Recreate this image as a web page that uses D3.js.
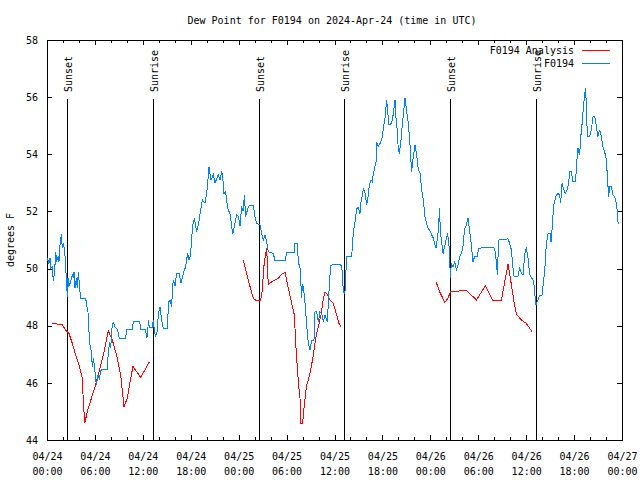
<!DOCTYPE html>
<html><head><meta charset="utf-8">
<script src="https://cdn.jsdelivr.net/npm/d3@7"></script>
<style>
body{margin:0;background:#fff;}
svg text{font-family:"DejaVu Sans Mono",monospace;font-size:10px;fill:#000;}
</style></head><body>
<svg id="c" width="640" height="480"></svg>
<script>
const titleText = "Dew Point for F0194 on 2024-Apr-24 (time in UTC)";
const yLabelText = "degrees F";
const startUTC = Date.UTC(2024, 3, 24, 0, 0);
const spanHours = 72;
const yTicks = [44, 46, 48, 50, 52, 54, 56, 58];
const xMajorHours = [0, 6, 12, 18, 24, 30, 36, 42, 48, 54, 60, 66, 72];
const xMinorHours = [2, 4, 8, 10, 14, 16, 20, 22, 26, 28, 32, 34, 38, 40, 44, 46, 50, 52, 56, 58, 62, 64, 68, 70];
const sunHours = [2.54, 13.3, 26.58, 37.23, 50.5, 61.27];
const sunLabels = ["Sunset", "Sunrise", "Sunset", "Sunrise", "Sunset", "Sunrise"];
const seriesNames = ["F0194 Analysis", "F0194"];
const seriesColors = ["#ff0000", "#0080ff"];

// Observed dew point (hours since 04/24 00:00 UTC)
const obsHours = [0.04,0.25,0.38,0.46,0.67,0.79,0.96,1.08,1.21,1.38,1.5,1.63,1.79,1.92,2.04,2.21,2.34,2.42,2.55,2.63,2.75,2.96,3.17,3.3,3.38,3.51,3.67,3.8,3.92,4.09,4.22,4.84,4.97,5.13,5.26,5.38,5.55,5.68,5.8,5.97,6.09,6.18,6.39,6.55,6.8,7.55,7.68,7.85,7.97,8.14,8.31,8.47,8.72,8.89,9.06,9.85,9.98,10.68,10.81,11.6,11.73,12.35,12.48,12.6,12.69,12.8,13.2,13.31,13.45,13.6,13.82,13.94,14.15,14.36,14.57,15.11,15.19,15.4,15.61,15.73,15.82,16.03,16.24,16.53,16.78,17.07,17.36,17.61,17.78,17.9,18.11,18.2,18.45,18.74,19.03,19.24,19.45,19.78,19.99,20.12,20.28,20.53,20.83,21.04,21.45,21.66,21.87,22.0,22.16,22.37,22.62,22.91,23.12,23.25,23.46,23.75,23.96,24.17,24.37,24.58,24.71,24.88,25.21,25.42,25.84,26.05,26.25,26.67,26.88,27.09,27.3,27.5,27.71,28.34,28.55,29.8,30.01,30.97,31.05,31.35,31.47,31.68,31.89,31.97,32.1,32.3,32.51,32.72,32.93,33.14,33.43,33.56,33.77,33.98,34.18,34.39,34.6,34.81,35.1,35.31,35.52,36.48,36.81,36.98,37.1,37.3,37.52,38.15,38.36,38.57,38.78,38.99,39.19,39.32,39.49,39.61,39.82,40.03,40.24,40.36,40.57,40.74,40.86,41.07,41.2,41.28,41.49,41.7,41.91,42.12,42.32,42.53,42.66,42.83,43.16,43.37,43.58,43.7,43.87,43.99,44.12,44.29,44.41,44.62,44.83,45.04,45.25,45.46,45.58,45.66,45.79,45.96,46.08,46.29,46.5,46.71,46.92,47.13,47.33,47.63,47.88,48.09,48.38,48.59,48.71,48.88,49.0,49.15,49.25,49.38,49.59,49.8,50.0,50.13,50.3,50.42,50.51,50.63,50.84,51.05,51.26,51.47,51.68,51.88,52.09,52.3,52.51,52.72,52.93,53.14,53.34,53.55,53.89,54.05,55.01,55.85,56.06,56.27,56.39,56.56,57.73,57.94,58.15,58.35,58.48,58.98,59.19,59.4,59.61,59.81,60.02,60.23,60.44,60.86,60.98,61.15,61.2,61.48,61.69,61.98,62.19,62.32,62.53,62.73,63.03,63.11,63.24,63.36,63.49,63.78,63.99,64.2,64.32,64.49,64.74,64.9,65.11,65.32,65.45,65.66,65.86,66.16,66.28,66.41,66.49,66.7,66.82,66.99,67.12,67.24,67.41,67.53,67.66,67.95,68.16,68.37,68.58,68.79,68.99,69.2,69.41,69.62,69.83,70.04,70.25,70.33,70.46,70.67,70.87,71.08,71.29,71.42,71.5,71.6];
const obsDewF = [50.36,50.18,50.36,50.01,50.07,49.57,49.89,50.59,50.24,50.42,50.24,50.83,51.2,50.71,50.88,50.65,50.01,49.66,49.02,49.66,49.37,49.54,49.77,49.66,49.89,49.31,49.66,49.31,49.89,49.31,48.96,48.96,48.73,48.49,47.79,47.33,47.09,46.57,46.86,46.51,46.16,45.92,46.28,46.16,46.48,46.48,47.09,47.44,47.21,47.91,48.14,47.97,47.91,47.79,47.56,47.56,47.87,47.87,48.14,48.14,47.87,47.87,47.56,47.7,48.2,47.95,47.95,48.2,47.8,47.65,47.8,48.43,48.65,48.2,47.9,47.9,48.8,48.9,48.65,49.4,49.6,49.4,49.83,49.83,49.5,49.83,50.07,50.53,50.3,50.4,50.88,51.47,51.76,51.3,51.65,52.05,52.4,52.3,52.63,52.98,53.57,53.1,53.28,53.0,53.28,53.1,53.4,53.2,52.63,52.7,52.1,51.93,51.5,51.2,51.47,51.88,51.82,51.5,52.17,52.0,52.58,51.82,52.17,52.22,52.2,51.8,51.58,51.53,51.23,51.0,51.18,50.94,50.59,50.53,50.27,50.27,50.57,50.57,50.88,50.88,50.24,50.01,48.96,49.43,49.37,48.84,48.03,47.38,47.15,47.5,47.5,48.49,48.49,48.14,48.49,48.43,48.14,48.37,48.14,49.19,50.12,50.15,50.12,49.9,49.19,49.13,50.42,50.42,51.29,51.64,52.11,52.13,51.93,52.34,52.57,52.81,52.63,52.22,52.57,52.93,53.1,53.04,53.33,53.57,53.74,54.44,54.27,54.38,54.5,54.91,55.26,55.9,55.49,55.03,55.08,55.43,55.9,55.26,54.79,54.15,54.03,54.38,54.79,55.38,55.96,55.49,55.08,54.32,53.74,53.39,53.74,54.09,54.32,53.97,53.45,53.33,52.75,52.4,51.82,51.47,51.35,51.23,51.06,50.82,50.71,51.06,51.35,52.11,51.35,51.0,50.53,50.77,51.06,51.18,51.0,50.36,49.66,50.18,50.07,50.24,49.95,50.12,50.42,50.53,50.77,51.41,51.52,51.78,51.29,50.82,50.24,50.42,50.42,50.71,50.74,50.74,50.71,50.24,49.78,51.0,51.04,50.88,50.65,50.01,49.74,49.74,50.01,49.83,49.78,50.48,50.74,50.36,49.78,49.6,49.43,48.9,48.72,48.9,49.07,49.07,49.6,49.89,50.88,51.21,51.23,50.94,51.35,51.87,52.28,52.57,52.63,52.57,52.28,52.98,52.75,52.63,52.75,52.98,53.39,53.39,53.04,53.04,53.45,54.03,54.21,53.97,54.56,55.03,55.49,55.84,56.31,55.84,54.62,54.62,54.85,55.32,55.34,54.97,54.62,54.85,54.62,54.27,54.09,53.8,52.87,52.52,52.87,52.87,52.57,52.52,52.28,51.99,51.64,51.58];

// Analysis dew point (null = gap)
const anaHours = [0.67,1.29,1.92,2.34,2.75,3.17,3.59,4.01,4.42,4.55,4.72,5.05,5.68,6.09,6.51,7.14,7.68,8.18,8.81,9.22,9.64,10.06,10.48,10.77,11.73,12.81,
  18.0,
  24.58,25.0,25.42,25.84,26.25,26.67,26.88,27.21,27.51,27.71,28.13,28.55,28.97,29.38,29.8,30.22,30.64,30.97,31.18,31.47,31.68,31.8,32.01,32.22,32.51,32.72,33.06,33.35,33.64,33.98,34.31,34.6,34.81,35.14,35.44,35.85,36.27,36.56,36.81,
  42.0,
  48.75,49.17,49.8,50.21,50.51,51.47,52.51,52.93,53.76,54.89,55.85,56.89,57.31,57.73,58.15,58.48,58.77,59.4,60.02,60.44,60.78];
const anaDewF = [48.08,48.06,48.03,47.85,47.73,47.38,46.97,46.63,46.16,45.34,44.58,44.99,45.57,45.93,46.39,47.09,47.82,47.5,46.86,46.28,45.17,45.46,46.16,46.57,46.19,46.73,
  null,
  50.3,49.83,49.37,48.96,48.87,48.87,49.02,50.24,50.71,49.43,49.54,49.6,49.66,49.8,49.87,49.31,48.78,48.38,47.21,46.04,45.46,44.58,44.58,45.23,45.93,46.1,46.51,46.98,47.56,47.97,48.38,48.96,49.17,49.08,48.9,48.78,48.38,48.08,47.97,
  null,
  49.51,49.19,48.82,48.96,49.19,49.21,49.24,49.13,48.9,49.39,48.87,48.87,49.54,50.15,49.43,48.84,48.4,48.2,48.08,47.91,47.77];

const L = 47, R = 622, T = 40, B = 440;
const hourDate = h => new Date(startUTC + h * 3600e3);
const svg = d3.select("#c");
svg.append("rect").attr("width", 640).attr("height", 480).attr("fill", "#fff");

const x = d3.scaleUtc().domain([hourDate(0), hourDate(spanHours)]).range([L, R]);
const y = d3.scaleLinear().domain([44, 58]).range([B, T]);

function styleAxis(g) {
  g.select(".domain").remove();
  g.selectAll("line").attr("stroke", "#000").attr("shape-rendering", "crispEdges");
  g.attr("font-family", null).attr("font-size", null);
}

// Y axes
svg.append("g").attr("transform", `translate(${L},0)`)
  .call(d3.axisLeft(y).tickValues(yTicks).tickSizeInner(-5).tickSizeOuter(0).tickPadding(9).tickFormat(d3.format("d")))
  .call(styleAxis);
svg.append("g").attr("transform", `translate(${R},0)`)
  .call(d3.axisRight(y).tickValues(yTicks).tickSizeInner(-5).tickSizeOuter(0).tickFormat(""))
  .call(styleAxis);

// X axes
const fmtD = d3.utcFormat("%m/%d"), fmtT = d3.utcFormat("%H:%M");
const gxb = svg.append("g").attr("transform", `translate(0,${B})`)
  .call(d3.axisBottom(x).tickValues(xMajorHours.map(hourDate)).tickSizeInner(-5).tickSizeOuter(0))
  .call(styleAxis);
gxb.selectAll(".tick text").each(function(d) {
  const t = d3.select(this).text(null).attr("y", null).attr("dy", null);
  t.append("tspan").attr("x", 0).attr("y", 20).text(fmtD(d));
  t.append("tspan").attr("x", 0).attr("y", 35).text(fmtT(d));
});
svg.append("g").attr("transform", `translate(0,${B})`)
  .call(d3.axisBottom(x).tickValues(xMinorHours.map(hourDate)).tickSizeInner(-3).tickSizeOuter(0).tickFormat(""))
  .call(styleAxis);
svg.append("g").attr("transform", `translate(0,${T})`)
  .call(d3.axisTop(x).tickValues(xMajorHours.map(hourDate)).tickSizeInner(-5).tickSizeOuter(0).tickFormat(""))
  .call(styleAxis);
svg.append("g").attr("transform", `translate(0,${T})`)
  .call(d3.axisTop(x).tickValues(xMinorHours.map(hourDate)).tickSizeInner(-3).tickSizeOuter(0).tickFormat(""))
  .call(styleAxis);

// Frame
svg.append("rect").attr("x", L + 0.5).attr("y", T + 0.5).attr("width", R - L).attr("height", B - T)
  .attr("fill", "none").attr("stroke", "#000").attr("shape-rendering", "crispEdges");

// Sunrise / sunset markers
const sun = svg.append("g");
sunHours.forEach((h, i) => {
  const sx = Math.round(x(hourDate(h))) + 0.5;
  sun.append("line").attr("x1", sx).attr("x2", sx).attr("y1", 99).attr("y2", B)
    .attr("stroke", "#000").attr("shape-rendering", "crispEdges");
  sun.append("text").attr("transform", `translate(${sx + 4},92) rotate(-90)`)
    .attr("text-anchor", "start").text(sunLabels[i]);
});

// Series
const line = d3.line().defined(d => d[1] != null).x(d => x(hourDate(d[0]))).y(d => y(d[1]));
const anaData = anaHours.map((h, i) => [h, anaDewF[i]]);
const obsData = obsHours.map((h, i) => [h, obsDewF[i]]);
svg.append("path").datum(anaData).attr("d", line).attr("fill", "none")
  .attr("stroke", seriesColors[0]).attr("stroke-width", 1).attr("shape-rendering", "crispEdges");
svg.append("path").datum(obsData).attr("d", line).attr("fill", "none")
  .attr("stroke", seriesColors[1]).attr("stroke-width", 1).attr("shape-rendering", "crispEdges");

// Legend
const legY = [50, 63];
seriesNames.forEach((n, i) => {
  svg.append("text").attr("x", 574).attr("y", legY[i] + 4).attr("text-anchor", "end").text(n);
  svg.append("line").attr("x1", 582).attr("x2", 610).attr("y1", legY[i] + 0.5).attr("y2", legY[i] + 0.5)
    .attr("stroke", seriesColors[i]).attr("shape-rendering", "crispEdges");
});

// Title and y label
svg.append("text").attr("x", 332).attr("y", 24).attr("text-anchor", "middle").text(titleText);
svg.append("text").attr("transform", "translate(14,240) rotate(-90)").attr("text-anchor", "middle").text(yLabelText);
</script>
</body></html>
